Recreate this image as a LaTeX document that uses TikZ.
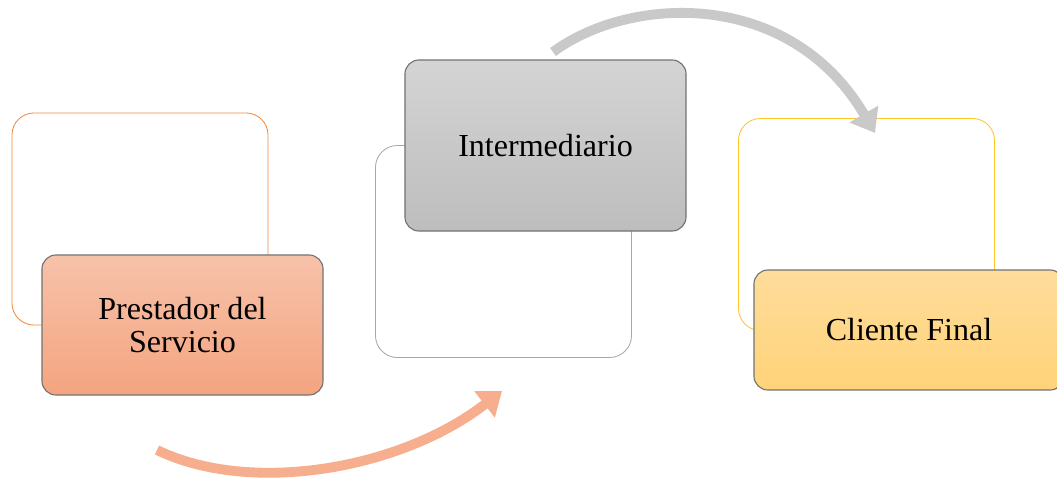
\documentclass[tikz,border=0pt]{standalone}
\usepackage{fontspec}
\setmainfont{Liberation Serif}
\usetikzlibrary{arrows.meta,positioning}
\definecolor{provline}{HTML}{F08A3E}
\definecolor{provtop}{HTML}{F7C2AA}
\definecolor{provbot}{HTML}{F4A47F}
\definecolor{provarrow}{HTML}{F6AE8E}
\definecolor{midline}{HTML}{A8A8A8}
\definecolor{midtop}{HTML}{D4D4D4}
\definecolor{midbot}{HTML}{BDBDBD}
\definecolor{midarrow}{HTML}{C9C9C9}
\definecolor{endline}{HTML}{FFC526}
\definecolor{endtop}{HTML}{FEDC9B}
\definecolor{endbot}{HTML}{FFD378}
\tikzset{
  backbox/.style={
    draw=#1, fill=white, rounded corners=0.55cm,
    minimum width=6.4cm, minimum height=5.3cm, line width=0.6pt
  },
  frontbox/.style 2 args={
    draw=black!55, top color=#1, bottom color=#2,
    rounded corners=0.35cm, line width=0.8pt,
    align=center, inner sep=4pt,
    font=\fontsize{22.8}{23.5}\selectfont
  },
  flowarc/.style={
    draw=#1, line width=7pt,
    -{Triangle[length=0.55cm,width=0.8cm,fill=#1]}
  }
}
\begin{document}
\begin{tikzpicture}[x=0.025cm, y=-0.025cm]
  \useasboundingbox (0,0) rectangle (1057,480);

  % back frames
  \node[backbox=provline] (provback) at (140,219) {};
  \node[backbox=midline]  (midback)  at (503.5,251.5) {};
  \node[backbox=endline]  (endback)  at (866.5,224.5) {};

  % front boxes
  \node[frontbox={provtop}{provbot}, minimum width=7.025cm, minimum height=3.5cm]
    (prov) at (182.5,325) {Prestador del\\Servicio};
  \node[frontbox={midtop}{midbot}, minimum width=7.025cm, minimum height=4.275cm]
    (mid) at (545.5,145.5) {Intermediario};
  \node[frontbox={endtop}{endbot}, minimum width=7.75cm, minimum height=3cm]
    (cli) at (909,330) {Cliente Final};

  % curved arrows
  \coordinate (provout) at (157,450);
  \coordinate (midin)   at (502,391);
  \coordinate (midout)  at (553,52);
  \coordinate (cliin)   at (875,133);
  \draw[flowarc=provarrow] (provout) .. controls (250,495) and (400,470) .. (midin);
  \draw[flowarc=midarrow]  (midout) .. controls (630,-5) and (790,-12) .. (cliin);
\end{tikzpicture}
\end{document}
